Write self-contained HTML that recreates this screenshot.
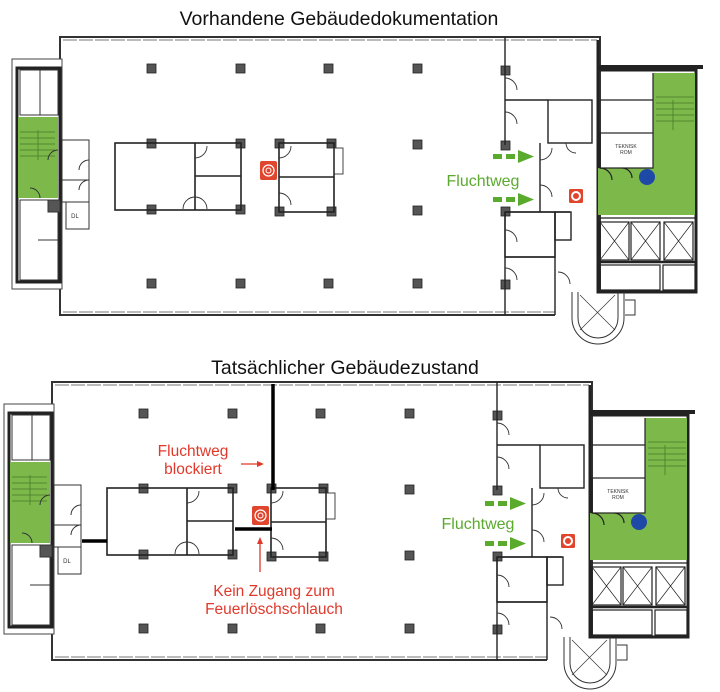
<!DOCTYPE html>
<html><head><meta charset="utf-8"><style>
html,body{margin:0;padding:0;background:#fff;}
svg{display:block;font-family:"Liberation Sans",sans-serif;}
</style></head><body>
<svg width="720" height="692" viewBox="0 0 720 692" xmlns="http://www.w3.org/2000/svg">
<defs>
<g id="plan">
  <rect x="60" y="37" width="540" height="278" fill="#fff" stroke="#333" stroke-width="2"/>
  <line x1="63" y1="40" x2="597" y2="40" stroke="#777" stroke-width="1" stroke-dasharray="14 2"/>
  <line x1="63" y1="312" x2="555" y2="312" stroke="#777" stroke-width="1" stroke-dasharray="14 2"/>
  <rect x="555" y="292" width="50" height="30" fill="#fff" stroke="none"/>
  <rect x="12" y="59" width="50" height="230" fill="#fff" stroke="#444" stroke-width="1"/>
  <rect x="17" y="68" width="43" height="214" fill="none" stroke="#222" stroke-width="3"/>
  <rect x="18" y="117" width="40" height="81" fill="#7cb84a"/>
  <g stroke="#4a7a2a" stroke-width="0.8">
    <line x1="20" y1="132" x2="55" y2="132"/><line x1="20" y1="138" x2="55" y2="138"/>
    <line x1="20" y1="144" x2="55" y2="144"/><line x1="20" y1="150" x2="55" y2="150"/>
    <line x1="20" y1="156" x2="55" y2="156"/><line x1="38" y1="130" x2="38" y2="160"/>
  </g>
  <g fill="none" stroke="#333" stroke-width="1">
    <rect x="20" y="70" width="38" height="45"/><line x1="40" y1="70" x2="40" y2="115"/>
    <rect x="20" y="200" width="38" height="80"/><line x1="38" y1="240" x2="58" y2="240"/>
    <rect x="62" y="140" width="27" height="40"/><rect x="62" y="180" width="27" height="22"/>
    <rect x="66" y="202" width="23" height="27"/>
    <rect x="48" y="200" width="12" height="12" fill="#555"/>
    <path d="M 58 150 A 10 10 0 0 0 48 160"/><path d="M 40 198 A 10 10 0 0 0 30 188"/>
    <path d="M 89 160 A 10 10 0 0 0 79 170"/><path d="M 89 180 A 10 10 0 0 0 79 190"/>
  </g>
  <text x="75" y="218" font-size="6" text-anchor="middle" fill="#333">DL</text>
  <g fill="#555" stroke="#222" stroke-width="0.8">
    <rect x="147" y="64" width="9" height="9"/><rect x="236" y="64" width="9" height="9"/>
    <rect x="324" y="64" width="9" height="9"/><rect x="413" y="64" width="9" height="9"/>
    <rect x="501" y="66" width="9" height="9"/>
    <rect x="147" y="279" width="9" height="9"/><rect x="236" y="279" width="9" height="9"/>
    <rect x="324" y="279" width="9" height="9"/><rect x="413" y="279" width="9" height="9"/>
    <rect x="501" y="280" width="9" height="9"/>
    <rect x="413" y="140" width="9" height="9"/><rect x="413" y="206" width="9" height="9"/>
    <rect x="501" y="141" width="9" height="9"/><rect x="501" y="207" width="9" height="9"/>
    <rect x="147" y="139" width="9" height="9"/><rect x="236" y="139" width="9" height="9"/>
    <rect x="147" y="205" width="9" height="9"/><rect x="236" y="205" width="9" height="9"/>
    <rect x="275" y="139" width="9" height="9"/><rect x="327" y="139" width="9" height="9"/>
    <rect x="275" y="207" width="9" height="9"/><rect x="327" y="207" width="9" height="9"/>
  </g>
  <g fill="none" stroke="#222" stroke-width="1.6">
    <rect x="115" y="143" width="126" height="67"/>
    <line x1="195" y1="143" x2="195" y2="210"/><line x1="195" y1="176" x2="241" y2="176"/>
    <rect x="279" y="143" width="55" height="69"/>
    <line x1="279" y1="177" x2="334" y2="177"/>
  </g>
  <g fill="none" stroke="#333" stroke-width="0.9">
    <path d="M 195 158 A 12 12 0 0 0 207 146"/><path d="M 195 197 A 12 12 0 0 0 183 209"/>
    <path d="M 195 197 A 12 12 0 0 1 207 209"/><path d="M 279 158 A 12 12 0 0 0 291 146"/>
    <path d="M 279 193 A 12 12 0 0 1 291 205"/>
    <rect x="334" y="148" width="9" height="26"/>
  </g>
  <rect x="260" y="161" width="17" height="19" rx="2" fill="#e0462e"/>
  <circle cx="268.5" cy="170.5" r="5.5" fill="none" stroke="#fff" stroke-width="1.2"/>
  <circle cx="268.5" cy="170.5" r="2.5" fill="none" stroke="#fff" stroke-width="1"/>
  <g fill="none" stroke="#222" stroke-width="1.4">
    <line x1="505" y1="37" x2="505" y2="145"/><line x1="505" y1="100" x2="548" y2="100"/>
    <rect x="548" y="100" width="44" height="43"/>
    <line x1="540" y1="143" x2="540" y2="212"/>
    <line x1="505" y1="212" x2="570" y2="212"/>
    <line x1="505" y1="212" x2="505" y2="315"/>
    <rect x="505" y="212" width="50" height="45"/><rect x="555" y="212" width="16" height="28"/>
    <line x1="555" y1="212" x2="555" y2="315"/><line x1="505" y1="257" x2="555" y2="257"/>
  </g>
  <g fill="none" stroke="#333" stroke-width="0.9">
    <path d="M 505 78 A 12 12 0 0 1 517 90"/><path d="M 505 112 A 12 12 0 0 1 517 124"/>
    <path d="M 540 160 A 12 12 0 0 0 552 148"/><path d="M 540 185 A 12 12 0 0 1 552 197"/>
    <path d="M 505 230 A 12 12 0 0 1 517 242"/><path d="M 505 268 A 12 12 0 0 1 517 280"/>
    <path d="M 558 272 A 12 12 0 0 1 570 284"/>
    <path d="M 566 143 A 10 10 0 0 0 576 153"/>
  </g>
  <rect x="598" y="65" width="105" height="4" fill="#222"/>
  <line x1="598" y1="40" x2="598" y2="290" stroke="#222" stroke-width="3"/>
  <rect x="598" y="70" width="98" height="222" fill="none" stroke="#222" stroke-width="3"/>
  <polygon points="653,73 695,73 695,215 598,215 598,168 653,168" fill="#7cb84a"/>
  <g stroke="#4a7a2a" stroke-width="0.8">
    <line x1="656" y1="97" x2="694" y2="97"/><line x1="656" y1="103" x2="694" y2="103"/>
    <line x1="656" y1="109" x2="694" y2="109"/><line x1="656" y1="115" x2="694" y2="115"/>
    <line x1="656" y1="121" x2="694" y2="121"/><line x1="673" y1="100" x2="673" y2="130"/>
  </g>
  <g fill="none" stroke="#222" stroke-width="1.2">
    <rect x="600" y="133" width="53" height="35"/>
    <line x1="600" y1="100" x2="653" y2="100"/><line x1="653" y1="73" x2="653" y2="133"/>
    <line x1="600" y1="218" x2="695" y2="218"/>
    <rect x="600" y="222" width="29" height="38"/><rect x="631" y="222" width="29" height="38"/><rect x="664" y="222" width="29" height="38"/>
    <path d="M600 222 L629 260 M629 222 L600 260 M631 222 L660 260 M660 222 L631 260 M664 222 L693 260 M693 222 L664 260" stroke-width="0.7"/>
    <line x1="598" y1="262" x2="695" y2="262" stroke-width="2.5"/>
    <rect x="600" y="265" width="60" height="25"/><rect x="663" y="265" width="32" height="25"/>
    <path d="M 600 168 A 12 12 0 0 1 612 180"/><path d="M 622 168 A 10 10 0 0 1 632 178"/>
  </g>
  <text x="626" y="148" font-size="5" text-anchor="middle" fill="#333">TEKNISK</text>
  <text x="626" y="154" font-size="5" text-anchor="middle" fill="#333">ROM</text>
  <circle cx="647" cy="177" r="8" fill="#1f49a6"/>
  <rect x="569" y="189" width="14" height="14" rx="1.5" fill="#e0462e"/>
  <circle cx="576" cy="196" r="4" fill="none" stroke="#fff" stroke-width="2"/>
  <g fill="none" stroke="#333" stroke-width="1">
    <path d="M 572 292 L 572 318 A 26 26 0 0 0 624 318 L 624 292"/>
    <path d="M 578 292 L 578 318 A 20 20 0 0 0 618 318 L 618 292"/>
    <path d="M 580 295 L 615 330 M 615 295 L 580 330" stroke-width="0.7"/>
    <path d="M 625 300 L 635 300 L 635 315 L 625 315"/>
  </g>
</g>
</defs>

<text x="339" y="25" font-size="19.5" text-anchor="middle" fill="#111">Vorhandene Gebäudedokumentation</text>
<use href="#plan"/>
<g fill="#5aaa2e">
  <rect x="493" y="154" width="9" height="5"/><rect x="506" y="154" width="9" height="5"/>
  <polygon points="518,150 534,156.5 518,163"/>
  <rect x="493" y="197" width="9" height="5"/><rect x="506" y="197" width="9" height="5"/>
  <polygon points="518,193 534,199.5 518,206"/>
</g>
<text x="483" y="186" font-size="16" text-anchor="middle" fill="#5aaa2e">Fluchtweg</text>

<text x="345" y="374" font-size="19.5" text-anchor="middle" fill="#111">Tatsächlicher Gebäudezustand</text>
<g transform="translate(-8,345)">
  <use href="#plan"/>
</g>
<g fill="#5aaa2e">
  <rect x="485" y="501" width="9" height="5"/><rect x="498" y="501" width="9" height="5"/>
  <polygon points="510,497 526,503.5 510,510"/>
  <rect x="485" y="541" width="9" height="5"/><rect x="498" y="541" width="9" height="5"/>
  <polygon points="510,537 526,543.5 510,550"/>
</g>
<text x="478" y="529" font-size="16" text-anchor="middle" fill="#5aaa2e">Fluchtweg</text>
<g stroke="#000" stroke-width="3.5">
  <line x1="273" y1="384" x2="273" y2="490"/>
  <line x1="82" y1="541" x2="107" y2="541"/>
  <line x1="235" y1="529" x2="272" y2="529"/>
</g>
<g fill="#e0392b" font-size="15.5" text-anchor="middle">
  <text x="193" y="456">Fluchtweg</text>
  <text x="193" y="474">blockiert</text>
  <text x="274" y="596">Kein Zugang zum</text>
  <text x="274" y="614">Feuerlöschschlauch</text>
</g>
<g stroke="#e0392b" stroke-width="1.3" fill="#e0392b">
  <line x1="241" y1="464" x2="260" y2="464"/>
  <polygon points="264,464 257,461 257,467" stroke="none"/>
  <line x1="260" y1="572" x2="260" y2="541"/>
  <polygon points="260,537 257,544 263,544" stroke="none"/>
</g>
</svg>
</body></html>
